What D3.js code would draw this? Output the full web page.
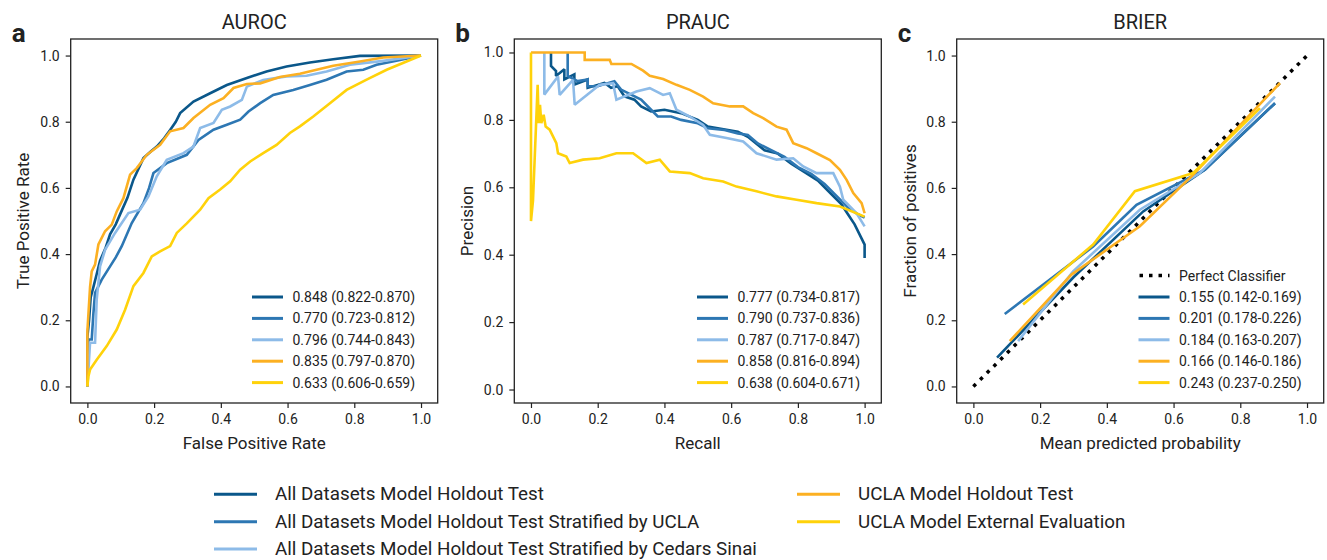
<!DOCTYPE html>
<html>
<head>
<meta charset="utf-8">
<script src="https://cdn.jsdelivr.net/npm/d3@7"></script>
<style>
  body { margin: 0; background: #fff; }
  svg text { font-family: Roboto, "Noto Sans", sans-serif; fill: #222; }
</style>
</head>
<body>
<div id="chart"></div>
<script>
// series names + colours
let seriesNames = [
    "All Datasets Model Holdout Test",
    "All Datasets Model Holdout Test Stratified by UCLA",
    "All Datasets Model Holdout Test Stratified by Cedars Sinai",
    "UCLA Model Holdout Test",
    "UCLA Model External Evaluation"
];
let seriesColors = ["#0a578a", "#2d77b3", "#8dbbe8", "#fcb022", "#ffd20a"];

// legend labels per panel
let aurocLabels = ["0.848 (0.822-0.870)", "0.770 (0.723-0.812)", "0.796 (0.744-0.843)", "0.835 (0.797-0.870)", "0.633 (0.606-0.659)"];
let praucLabels = ["0.777 (0.734-0.817)", "0.790 (0.737-0.836)", "0.787 (0.717-0.847)", "0.858 (0.816-0.894)", "0.638 (0.604-0.671)"];
let brierLabels = ["0.155 (0.142-0.169)", "0.201 (0.178-0.226)", "0.184 (0.163-0.207)", "0.166 (0.146-0.186)", "0.243 (0.237-0.250)"];

let tickValues = [0, 0.2, 0.4, 0.6, 0.8, 1.0];

// ROC curves [fpr, tpr]
let rocAllHoldout = [[0,0],[0,0.15],[0.005,0.2],[0.01,0.27],[0.018,0.3],[0.028,0.34],[0.038,0.38],[0.055,0.42],[0.068,0.46],[0.085,0.49],[0.098,0.52],[0.12,0.57],[0.138,0.625],[0.168,0.69],[0.19,0.71],[0.208,0.725],[0.23,0.75],[0.248,0.775],[0.265,0.8],[0.278,0.826],[0.318,0.861],[0.368,0.886],[0.418,0.911],[0.478,0.932],[0.537,0.952],[0.597,0.967],[0.667,0.979],[0.737,0.989],[0.817,0.999],[1,1]];
let rocAllUcla = [[0,0],[0.003,0.142],[0.013,0.142],[0.018,0.22],[0.023,0.283],[0.043,0.323],[0.068,0.363],[0.085,0.39],[0.103,0.424],[0.133,0.494],[0.168,0.554],[0.185,0.6],[0.198,0.645],[0.238,0.675],[0.298,0.7],[0.333,0.745],[0.378,0.776],[0.418,0.791],[0.458,0.806],[0.483,0.831],[0.518,0.856],[0.557,0.881],[0.617,0.896],[0.667,0.911],[0.717,0.927],[0.777,0.952],[0.827,0.957],[0.867,0.972],[0.93,0.985],[1,1]];
let rocAllCedars = [[0,0],[0.008,0.132],[0.023,0.132],[0.028,0.263],[0.038,0.363],[0.053,0.413],[0.083,0.464],[0.123,0.524],[0.158,0.534],[0.183,0.574],[0.208,0.635],[0.238,0.685],[0.288,0.705],[0.318,0.725],[0.338,0.781],[0.378,0.796],[0.403,0.836],[0.428,0.846],[0.463,0.866],[0.478,0.906],[0.527,0.926],[0.597,0.937],[0.657,0.939],[0.717,0.952],[0.787,0.972],[0.887,0.984],[1,1]];
let rocUclaHoldout = [[0,0],[0,0.167],[0.008,0.3],[0.013,0.348],[0.023,0.368],[0.033,0.429],[0.053,0.469],[0.073,0.489],[0.088,0.529],[0.108,0.569],[0.128,0.64],[0.148,0.66],[0.178,0.7],[0.218,0.73],[0.248,0.771],[0.288,0.781],[0.318,0.811],[0.368,0.851],[0.408,0.871],[0.438,0.902],[0.478,0.914],[0.518,0.916],[0.577,0.935],[0.637,0.945],[0.687,0.957],[0.737,0.969],[0.817,0.982],[0.887,0.994],[1,1]];
let rocUclaExternal = [[0,0],[0.003,0.03],[0.008,0.051],[0.028,0.081],[0.058,0.122],[0.088,0.172],[0.113,0.232],[0.138,0.303],[0.168,0.343],[0.193,0.393],[0.218,0.408],[0.248,0.424],[0.268,0.464],[0.298,0.493],[0.338,0.534],[0.363,0.569],[0.398,0.595],[0.428,0.62],[0.458,0.655],[0.488,0.68],[0.527,0.705],[0.567,0.73],[0.607,0.766],[0.637,0.786],[0.677,0.816],[0.727,0.856],[0.777,0.896],[0.837,0.927],[0.897,0.957],[1,1]];

// PR curves [recall, precision]
let prAllHoldout = [[0.06,1.0],[0.06,0.96],[0.075,0.945],[0.075,0.93],[0.1,0.95],[0.1,0.92],[0.13,0.935],[0.13,0.905],[0.17,0.92],[0.17,0.895],[0.22,0.91],[0.24,0.895],[0.26,0.9],[0.28,0.87],[0.31,0.86],[0.33,0.84],[0.36,0.825],[0.4,0.83],[0.45,0.82],[0.5,0.8],[0.53,0.78],[0.56,0.775],[0.62,0.765],[0.65,0.75],[0.7,0.71],[0.74,0.7],[0.78,0.67],[0.82,0.645],[0.86,0.62],[0.9,0.58],[0.93,0.55],[0.95,0.52],[0.97,0.49],[0.99,0.45],[1.0,0.43],[1.0,0.39]];
let prAllUcla = [[0.11,1.0],[0.11,0.93],[0.14,0.915],[0.17,0.92],[0.17,0.9],[0.2,0.9],[0.25,0.915],[0.27,0.89],[0.3,0.875],[0.33,0.86],[0.36,0.83],[0.38,0.81],[0.42,0.81],[0.45,0.8],[0.5,0.79],[0.53,0.775],[0.58,0.77],[0.62,0.76],[0.65,0.755],[0.68,0.73],[0.72,0.71],[0.76,0.69],[0.8,0.66],[0.84,0.64],[0.88,0.61],[0.92,0.57],[0.95,0.54],[0.98,0.52],[1.0,0.51]];
let prAllCedars = [[0.04,1.0],[0.04,0.875],[0.081,0.929],[0.086,0.874],[0.126,0.919],[0.131,0.845],[0.206,0.904],[0.246,0.909],[0.256,0.86],[0.316,0.884],[0.356,0.894],[0.396,0.874],[0.416,0.879],[0.436,0.83],[0.476,0.81],[0.516,0.785],[0.536,0.756],[0.586,0.746],[0.636,0.736],[0.676,0.701],[0.736,0.682],[0.786,0.686],[0.816,0.662],[0.856,0.642],[0.906,0.642],[0.926,0.602],[0.936,0.563],[0.976,0.523],[1.0,0.484]];
let prUclaHoldout = [[0,1.0],[0.161,1.0],[0.161,0.978],[0.236,0.978],[0.241,0.966],[0.301,0.966],[0.336,0.946],[0.356,0.931],[0.396,0.921],[0.436,0.904],[0.476,0.889],[0.516,0.869],[0.546,0.849],[0.596,0.84],[0.636,0.84],[0.666,0.82],[0.696,0.805],[0.736,0.78],[0.766,0.771],[0.786,0.731],[0.826,0.716],[0.856,0.701],[0.896,0.681],[0.926,0.652],[0.946,0.622],[0.966,0.583],[0.991,0.553],[1.0,0.523]];
let prUclaExternal = [[0,1.0],[0,0.5],[0.006,0.56],[0.02,0.904],[0.023,0.79],[0.027,0.845],[0.031,0.79],[0.038,0.815],[0.044,0.78],[0.056,0.771],[0.076,0.731],[0.081,0.701],[0.106,0.691],[0.116,0.672],[0.156,0.682],[0.206,0.686],[0.256,0.701],[0.306,0.701],[0.346,0.672],[0.386,0.682],[0.416,0.647],[0.476,0.642],[0.516,0.627],[0.576,0.617],[0.616,0.602],[0.676,0.588],[0.736,0.573],[0.796,0.563],[0.856,0.553],[0.926,0.543],[1.0,0.513]];

// calibration curves [mean predicted, fraction positive]
let calAllHoldout = [[0.071,0.087],[0.3,0.33],[0.509,0.529],[0.694,0.655],[0.904,0.856]];
let calAllUcla = [[0.094,0.219],[0.359,0.423],[0.489,0.549],[0.694,0.655],[0.904,0.856]];
let calAllCedars = [[0.134,0.137],[0.299,0.348],[0.499,0.534],[0.679,0.645],[0.904,0.876]];
let calUclaHoldout = [[0.109,0.137],[0.294,0.338],[0.499,0.484],[0.659,0.64],[0.919,0.917]];
let calUclaExternal = [[0.149,0.248],[0.359,0.429],[0.484,0.59],[0.659,0.645],[0.859,0.841]];
let perfectLine = [[0, 0], [1, 1]];

let width = 1327;
let height = 560;
let frameW = 367;
let frameTop = 39;
let frameBot = 403;

let svg = d3.select("#chart")
    .append("svg")
    .attr("width", width)
    .attr("height", height);

let panels = [
    {
        left: 70.7, letter: "a", title: "AUROC", xLabel: "False Positive Rate", yLabel: "True Positive Rate",
        yLabelX: 29, yDom: [-0.05, 1.05], legX: 252,
        data: [rocAllHoldout, rocAllUcla, rocAllCedars, rocUclaHoldout, rocUclaExternal], labels: aurocLabels
    },
    {
        left: 514.3, letter: "b", title: "PRAUC", xLabel: "Recall", yLabel: "Precision",
        yLabelX: 473, yDom: [-0.04, 1.04], legX: 697,
        data: [prAllHoldout, prAllUcla, prAllCedars, prUclaHoldout, prUclaExternal], labels: praucLabels
    },
    {
        left: 956.7, letter: "c", title: "BRIER", xLabel: "Mean predicted probability", yLabel: "Fraction of positives",
        yLabelX: 916, yDom: [-0.05, 1.05], legX: 1138.5, perfect: true,
        data: [calAllHoldout, calAllUcla, calAllCedars, calUclaHoldout, calUclaExternal], labels: brierLabels
    }
];

panels.forEach(function(p) {
    let xScale = d3.scaleLinear().domain([-0.05, 1.05]).range([p.left, p.left + frameW]);
    let yScale = d3.scaleLinear().domain(p.yDom).range([frameBot, frameTop]);
    let g = svg.append("g");

    let xAxis = d3.axisBottom(xScale).tickValues(tickValues).tickFormat(d3.format(".1f"))
        .tickSize(5).tickPadding(6).tickSizeOuter(0);
    let yAxis = d3.axisLeft(yScale).tickValues(tickValues).tickFormat(d3.format(".1f"))
        .tickSize(5).tickPadding(6).tickSizeOuter(0);

    let gx = g.append("g").attr("transform", "translate(0," + frameBot + ")").call(xAxis);
    let gy = g.append("g").attr("transform", "translate(" + p.left + ",0)").call(yAxis);
    [gx, gy].forEach(function(a) {
        a.select(".domain").remove();
        a.selectAll("line").attr("stroke", "#222").attr("stroke-width", 1.2);
        a.selectAll("text").style("font-size", "14px").style("font-family", "Roboto").attr("fill", "#222");
    });

    let line = d3.line()
        .x(function(d) { return xScale(d[0]); })
        .y(function(d) { return yScale(d[1]); });

    if (p.perfect) {
        g.append("path")
            .datum(perfectLine)
            .attr("d", line)
            .attr("fill", "none")
            .attr("stroke", "#000")
            .attr("stroke-width", 3.5)
            .attr("stroke-dasharray", "3.5,6");
    }

    p.data.forEach(function(s, i) {
        g.append("path")
            .datum(s)
            .attr("d", line)
            .attr("fill", "none")
            .attr("stroke", seriesColors[i])
            .attr("stroke-width", 2.6)
            .attr("stroke-linejoin", "miter")
            .attr("stroke-miterlimit", 2);
    });

    // frame
    g.append("rect")
        .attr("x", p.left).attr("y", frameTop)
        .attr("width", frameW).attr("height", frameBot - frameTop)
        .attr("fill", "none").attr("stroke", "#222").attr("stroke-width", 1.3);

    // title, letter, axis labels
    g.append("text")
        .attr("x", p.left + frameW / 2).attr("y", 29)
        .attr("text-anchor", "middle").style("font-size", "20px")
        .text(p.title);
    g.append("text")
        .attr("x", p.left - 59).attr("y", 42)
        .style("font-size", "26px").style("font-weight", "bold")
        .text(p.letter);
    g.append("text")
        .attr("x", p.left + frameW / 2).attr("y", 449)
        .attr("text-anchor", "middle").style("font-size", "17px")
        .text(p.xLabel);
    g.append("text")
        .attr("transform", "translate(" + p.yLabelX + "," + ((frameTop + frameBot) / 2) + ")rotate(-90)")
        .attr("text-anchor", "middle").style("font-size", "17px")
        .text(p.yLabel);

    // inset legend
    let rowY = [297, 318.4, 339.8, 361.2, 382.6];
    let leg = g.append("g");
    if (p.perfect) {
        leg.append("line")
            .attr("x1", p.legX + 1).attr("x2", p.legX + 31)
            .attr("y1", 275.6).attr("y2", 275.6)
            .attr("stroke", "#000").attr("stroke-width", 3.5)
            .attr("stroke-dasharray", "3.5,6");
        leg.append("text")
            .attr("x", p.legX + 40.5).attr("y", 275.6 + 5)
            .style("font-size", "14px")
            .text("Perfect Classifier");
    }
    p.labels.forEach(function(lab, i) {
        leg.append("line")
            .attr("x1", p.legX).attr("x2", p.legX + 31)
            .attr("y1", rowY[i]).attr("y2", rowY[i])
            .attr("stroke", seriesColors[i]).attr("stroke-width", 3);
        leg.append("text")
            .attr("x", p.legX + 40.5).attr("y", rowY[i] + 5)
            .style("font-size", "14px")
            .text(lab);
    });
});

// bottom legend
let bottomLeg = svg.append("g");
let legCols = [214, 797];
let legRows = [494.3, 521.7, 549];
seriesNames.forEach(function(name, i) {
    let col = i < 3 ? 0 : 1;
    let row = i < 3 ? i : i - 3;
    let x0 = legCols[col];
    bottomLeg.append("line")
        .attr("x1", x0).attr("x2", x0 + 43)
        .attr("y1", legRows[row]).attr("y2", legRows[row])
        .attr("stroke", seriesColors[i]).attr("stroke-width", 3);
    bottomLeg.append("text")
        .attr("x", x0 + 61).attr("y", legRows[row] + 6)
        .style("font-size", "18.8px")
        .text(name);
});
</script>
</body>
</html>
